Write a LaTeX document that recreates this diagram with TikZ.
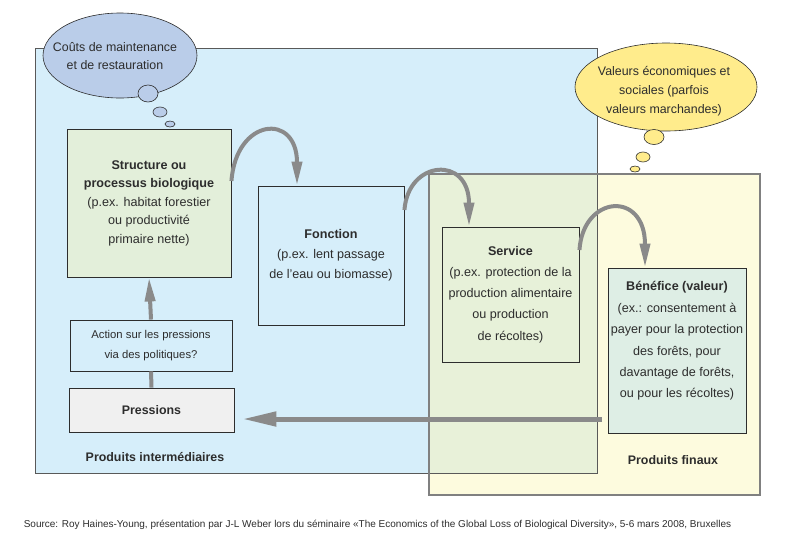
\documentclass[tikz,border=0pt]{standalone}
\usepackage{fontspec}
\setmainfont{Liberation Sans}
\usetikzlibrary{arrows.meta}

\definecolor{zoneblue}{RGB}{214,238,250}
\definecolor{zoneyellow}{RGB}{253,251,222}
\definecolor{zonemix}{RGB}{232,241,217}
\definecolor{bubbleblue}{RGB}{186,205,233}
\definecolor{bubbleyellow}{RGB}{255,236,140}
\definecolor{boxgreen}{RGB}{227,239,218}
\definecolor{boxteal}{RGB}{222,238,229}
\definecolor{boxgrey}{RGB}{240,240,240}
\definecolor{flowgrey}{RGB}{138,138,138}
\definecolor{inkgrey}{RGB}{45,45,45}

\tikzset{
  box/.style={draw=inkgrey, line width=0.9pt, align=center, text=inkgrey,
    font=\fontsize{12.6}{20.5}\selectfont, inner sep=0pt},
  bubble/.style={draw=inkgrey, line width=0.6pt},
  flow/.style={draw=flowgrey, line width=4pt, -{Triangle[length=24pt,width=10pt]}},
  zonetitle/.style={text=inkgrey, font=\fontsize{12.4}{14}\selectfont\bfseries},
}

\begin{document}
\begin{tikzpicture}[x=1pt,y=-1pt]
  \useasboundingbox (0,0) rectangle (799,552);
  % zones
  \fill[zoneblue] (35,48) rectangle (597,473);
  \fill[zoneyellow] (429,174) rectangle (760,495);
  \fill[zonemix] (429,174) rectangle (597,473);
  \draw[draw=black!65, line width=1pt] (35,48) rectangle (597,473);
  \draw[draw=black!50, line width=1.2pt] (429,174) rectangle (760,495);

  % thought bubbles
  \draw[bubble, fill=bubbleblue] (120,55.5) ellipse (77 and 42.5);
  \draw[bubble, fill=bubbleblue] (148,93.5) ellipse (10 and 8.5);
  \draw[bubble, fill=bubbleblue] (160,112) ellipse (7 and 5);
  \draw[bubble, fill=bubbleblue] (170,124) ellipse (5 and 3);
  \node[text=inkgrey, align=center, font=\fontsize{12.4}{18}\selectfont] (couts) at (115,56)
    {Coûts de maintenance\\ et de restauration};

  \draw[bubble, fill=bubbleyellow] (666,87) ellipse (91 and 44);
  \draw[bubble, fill=bubbleyellow] (654,137) ellipse (10 and 7.5);
  \draw[bubble, fill=bubbleyellow] (643,157) ellipse (7 and 5);
  \draw[bubble, fill=bubbleyellow] (635,169) ellipse (5 and 3);
  \node[text=inkgrey, align=center, font=\fontsize{12.4}{19}\selectfont] (valeurs) at (664,91.5)
    {Valeurs économiques et\\ sociales (parfois\\ valeurs marchandes)};

  % boxes
  \node[box, font=\fontsize{12.6}{18.5}\selectfont, fill=boxgreen, minimum width=164pt, minimum height=148pt] (structure) at (149,203)
    {\textbf{Structure ou}\\ \textbf{processus biologique}\\ (p.ex. habitat forestier\\ ou productivité\\ primaire nette)};
  \node[box, font=\fontsize{12.6}{20}\selectfont, fill=zoneblue, minimum width=146pt, minimum height=139pt] (fonction) at (331,255.5)
    {\textbf{Fonction}\\ (p.ex. lent passage\\ de l'eau ou biomasse)};
  \node[box, font=\fontsize{12.6}{21.2}\selectfont, fill=zonemix!85!boxgreen, minimum width=137pt, minimum height=135pt] (service) at (510.5,294.5)
    {\textbf{Service}\\ (p.ex. protection de la\\ production alimentaire\\ ou production\\ de récoltes)};
  \node[box, fill=boxteal, minimum width=138pt, minimum height=165pt] (benefice) at (677,350.5) {};
  \node[box, font=\fontsize{12.6}{21.4}\selectfont, draw=none] (beneficetext) at (677,341)
    {\textbf{Bénéfice (valeur)}\\ (ex.: consentement à\\ payer pour la protection\\ des forêts, pour\\ davantage de forêts,\\ ou pour les récoltes)};
  \node[box, fill=zoneblue, font=\fontsize{11.3}{20}\selectfont, minimum width=162pt, minimum height=51pt] (action) at (151,345.5)
    {Action sur les pressions\\ via des politiques?};
  \node[box, fill=boxgrey, font=\fontsize{12.4}{14}\selectfont, minimum width=165pt, minimum height=44pt] (pressions) at (151.5,410)
    {\textbf{Pressions}};

  \node[zonetitle] (intermediaires) at (155,457) {Produits intermédiaires};
  \node[zonetitle] (finaux) at (673,460) {Produits finaux};

  % flows
  \draw[flow] ([yshift=22pt]structure.east) .. controls (236,118) and (297,112) .. ([xshift=-34pt]fonction.north);
  \draw[flow] ([yshift=45.5pt]fonction.east) .. controls (408,160) and (469,155) .. ([xshift=-41.5pt]service.north);
  \draw[flow] ([yshift=44.5pt]service.east) .. controls (583,195) and (645,190) .. ([xshift=-32pt]benefice.north);
  \draw[draw=flowgrey, line width=4pt] (pressions.north) -- (action.south);
  \draw[flow] (action.north) -- (structure.south);
  \coordinate (retour) at (602,419);
  \draw[flow, line width=5pt, -{Triangle[length=34pt,width=14pt]}, shorten >=8pt] (retour) -- (pressions.east |- retour);

  % source
  \node[text=inkgrey, font=\fontsize{10}{12}\selectfont] (source) at (377.5,525)
    {Source: Roy Haines-Young, présentation par J-L Weber lors du séminaire «The Economics of the Global Loss of Biological Diversity», 5-6 mars 2008, Bruxelles};
\end{tikzpicture}
\end{document}
